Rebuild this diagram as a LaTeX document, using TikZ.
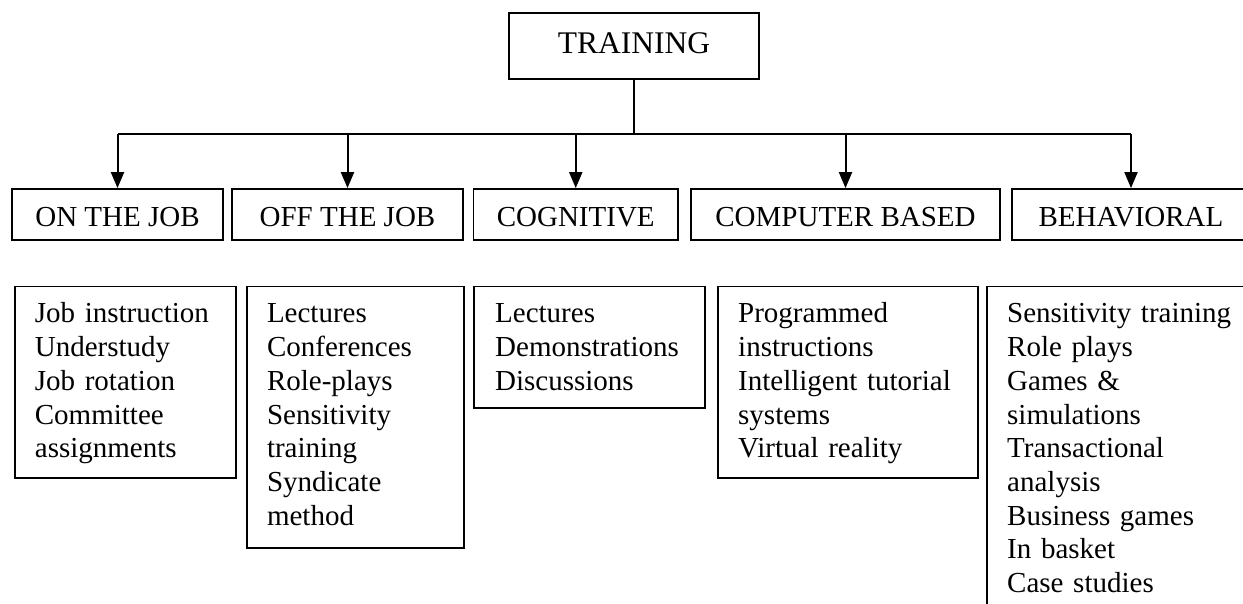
\documentclass[tikz,border=0pt]{standalone}
\usepackage{fontspec}
\setmainfont{Liberation Serif}
\usetikzlibrary{arrows.meta}
\begin{document}
\begin{tikzpicture}[x=1pt,y=-1pt,
  rootbox/.style={draw=black, line width=1.8pt, inner sep=0pt,
    minimum width=250pt, minimum height=66pt,
    text height=20.9pt, text depth=6.6pt,
    font=\fontsize{31.5}{36}\selectfont},
  catbox/.style={draw=black, line width=1.8pt, inner sep=0pt,
    minimum height=51pt, text height=24.8pt, text depth=0pt,
    font=\fontsize{29}{33.7}\selectfont},
  listbox/.style={draw=black, line width=1.8pt, inner sep=0pt, anchor=north west},
  listtext/.style={anchor=base west, inner sep=0pt, text width=260pt, align=left,
    font=\fontsize{29}{33.7}\selectfont},
  trunk/.style={line width=2.7pt},
  branch/.style={line width=2pt, -{Triangle[length=16pt,width=13pt]}},
]
\clip (0,0) rectangle (1243,604);
\fill[white] (0,0) rectangle (1243,604);

% root
\node[rootbox] (train) at (634,46) {TRAINING};

% categories
\node[catbox, minimum width=211pt]   (on)  at (117.5,214.5) {ON THE JOB};
\node[catbox, minimum width=231pt]   (off) at (347.5,214.5) {OFF THE JOB};
\node[catbox, minimum width=204.5pt] (cog) at (575.75,214.5) {COGNITIVE};
\node[catbox, minimum width=309pt]   (com) at (845.5,214.5) {COMPUTER BASED};
\node[catbox, minimum width=238pt]   (beh) at (1131,214.5) {BEHAVIORAL};

% connectors
\coordinate (hub) at (634,134);
\draw[trunk] (train.south) -- (hub);
\draw[trunk] (on.north |- hub) -- (beh.north |- hub);
\foreach \n in {on,off,cog,com,beh}
  \draw[branch] (\n.north |- hub) -- (\n.north);

% method lists
\node[listbox, minimum width=221pt,   minimum height=191.3pt] (l1) at (13.7,285.7) {};
\node[listbox, minimum width=216.7pt, minimum height=261.3pt] (l2) at (246,285.7) {};
\node[listbox, minimum width=230.7pt, minimum height=121.3pt] (l3) at (473.3,285.7) {};
\node[listbox, minimum width=259.7pt, minimum height=191pt]   (l4) at (717.3,285.7) {};
\node[listbox, minimum width=290pt,   minimum height=340pt]   (l5) at (985.7,285.7) {};

\node[listtext] (t1) at (34.7,323) {Job instruction\\Understudy\\Job rotation\\Committee\\assignments};
\node[listtext] (t2) at (266.8,323) {Lectures\\Conferences\\Role-plays\\Sensitivity\\training\\Syndicate\\method};
\node[listtext] (t3) at (495,323) {Lectures\\Demonstrations\\Discussions};
\node[listtext] (t4) at (738,323) {Programmed\\instructions\\Intelligent tutorial\\systems\\Virtual reality};
\node[listtext] (t5) at (1007,323) {Sensitivity training\\Role plays\\Games \&\\simulations\\Transactional\\analysis\\Business games\\In basket\\Case studies};
\end{tikzpicture}
\end{document}
